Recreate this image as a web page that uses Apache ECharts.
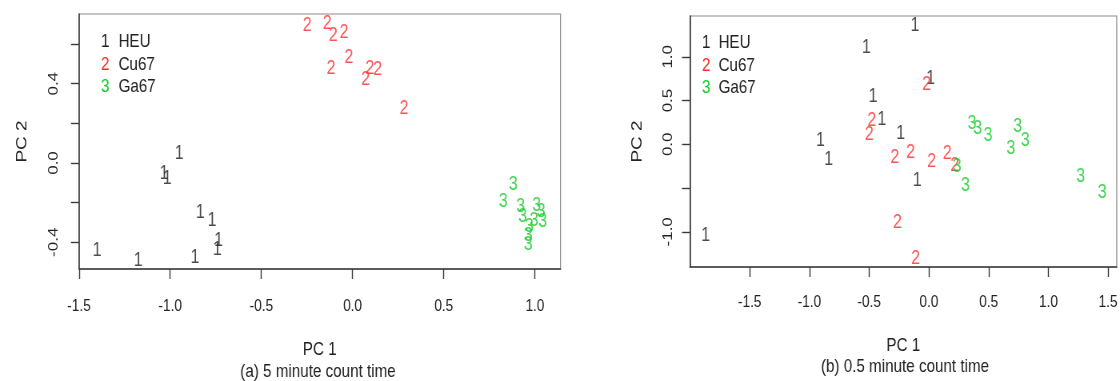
<!DOCTYPE html>
<html>
<head>
<meta charset="utf-8">
<script src="https://cdn.jsdelivr.net/npm/echarts@6/dist/echarts.min.js"></script>
<style>
  html, body { margin: 0; padding: 0; background: #fff; overflow: hidden; }
  /* the original figure is squeezed sideways, so draw wider and scale x by 0.8 */
  #chart { width: 1400px; height: 381px; transform: scaleX(0.8); transform-origin: 0 0; }
</style>
</head>
<body>
<div id="chart"></div>
<script>
// groups, plotted as their code digit
var groupNames = ['HEU', 'Cu67', 'Ga67'];
var groupCodes = ['1', '2', '3'];
var groupColors = ['#1e1e1e', '#ff2b2b', '#12cc26'];

// (a) 5 minute count time  [PC1, PC2]
var a_heu = [[-0.950, 0.049], [-1.034, -0.051], [-1.016, -0.077], [-0.835, -0.249], [-0.771, -0.288],
             [-0.734, -0.389], [-0.742, -0.434], [-1.401, -0.444], [-1.175, -0.493], [-0.864, -0.476]];
var a_cu67 = [[-0.248, 0.692], [-0.139, 0.702], [-0.106, 0.646], [-0.047, 0.660], [-0.020, 0.534],
              [-0.118, 0.475], [0.095, 0.478], [0.138, 0.470], [0.072, 0.423], [0.282, 0.276]];
var a_ga67 = [[0.881, -0.108], [0.826, -0.195], [0.922, -0.221], [1.009, -0.212], [0.933, -0.271],
              [1.033, -0.246], [1.042, -0.296], [0.995, -0.288], [0.969, -0.322], [0.963, -0.364], [0.963, -0.411]];

// (b) 0.5 minute count time
var b_heu = [[-0.908, 0.038], [-0.839, -0.175], [-1.869, -1.040], [-0.117, 1.352], [-0.523, 1.105],
             [0.014, 0.751], [-0.467, 0.541], [-0.394, 0.282], [-0.236, 0.122], [-0.098, -0.411]];
var b_cu67 = [[-0.019, 0.686], [-0.478, 0.274], [-0.500, 0.114], [-0.286, -0.145], [-0.153, -0.099],
              [0.023, -0.202], [0.153, -0.106], [0.217, -0.240], [-0.264, -0.895], [-0.111, -1.306]];
var b_ga67 = [[0.236, -0.259], [0.306, -0.469], [0.361, 0.237], [0.408, 0.179], [0.494, 0.103],
              [0.742, 0.206], [0.806, 0.046], [0.686, -0.049], [1.269, -0.366], [1.450, -0.545]];

// ticks and tick labels
var a_xTicks = [-1.5, -1.0, -0.5, 0.0, 0.5, 1.0];
var a_yTicks = [-0.4, -0.2, 0.0, 0.2, 0.4, 0.6];
var a_yLabels = [-0.4, 0.0, 0.4];
var b_xTicks = [-1.5, -1.0, -0.5, 0.0, 0.5, 1.0, 1.5];
var b_yTicks = [-1.0, -0.5, 0.0, 0.5, 1.0];
var b_yLabels = [-1.0, 0.0, 0.5, 1.0];

var FONT = "'Liberation Sans', Arial, sans-serif";
var AXIS_COLOR = '#3a3a3a';
var SX = 0.8; // horizontal squeeze, see css

function fmt(v) { return v.toFixed(1); }

function xAxisOpt(idx, min, max, ticks, nameGap, margin) {
  return {
    type: 'value', gridIndex: idx, min: min, max: max,
    name: 'PC 1', nameLocation: 'middle', nameGap: nameGap,
    nameTextStyle: { fontSize: 19, fontFamily: FONT, color: '#222' },
    axisLine: { show: true, onZero: false, lineStyle: { color: AXIS_COLOR, width: 1.6 } },
    axisTick: { show: true, length: 10, customValues: ticks, lineStyle: { color: AXIS_COLOR, width: 1.4 } },
    axisLabel: { customValues: ticks, formatter: fmt, fontSize: 17, fontFamily: FONT, color: '#222', margin: margin },
    splitLine: { show: false }
  };
}

function yAxisOpt(idx, min, max, ticks, labels, nameGap, margin) {
  return {
    type: 'value', gridIndex: idx, min: min, max: max,
    name: 'PC 2', nameLocation: 'middle', nameGap: nameGap / SX, nameRotate: 90,
    nameTextStyle: { fontSize: 19, fontFamily: FONT, color: '#222' },
    axisLine: { show: true, onZero: false, lineStyle: { color: AXIS_COLOR, width: 1.6 } },
    axisTick: { show: true, length: 8 / SX, customValues: ticks, lineStyle: { color: AXIS_COLOR, width: 1.4 } },
    axisLabel: { customValues: labels, formatter: fmt, rotate: 90, fontSize: 17, fontFamily: FONT, color: '#222', margin: margin / SX },
    splitLine: { show: false }
  };
}

function digits(i, data, idx) {
  return {
    name: groupNames[i], type: 'scatter', xAxisIndex: idx, yAxisIndex: idx,
    data: data, symbolSize: 1, silent: true,
    itemStyle: { color: 'rgba(0,0,0,0)' },
    label: { show: true, position: 'inside', formatter: groupCodes[i], color: groupColors[i],
             fontSize: 20, fontFamily: FONT, verticalAlign: 'middle' },
    emphasis: { disabled: true }
  };
}

function legendOpt(left, top, codeWidth) {
  var rich = {};
  groupNames.forEach(function (n, i) {
    rich['c' + i] = { color: groupColors[i], fontSize: 19, fontFamily: FONT, width: codeWidth / SX };
  });
  return {
    orient: 'vertical', left: left / SX, top: top, padding: 0, itemGap: 2.5,
    icon: 'none', itemWidth: 0, itemHeight: 14, selectedMode: false,
    data: groupNames,
    formatter: function (name) {
      var i = groupNames.indexOf(name);
      return '{c' + i + '|' + groupCodes[i] + '}' + name;
    },
    textStyle: { fontSize: 19, fontFamily: FONT, color: '#222', lineHeight: 20, rich: rich }
  };
}

var W = 1120 / SX;
var option = {
  backgroundColor: '#fff',
  animation: false,
  title: [
    { text: '(a) 5 minute count time', left: 318 / SX, top: 362, textAlign: 'center', padding: 0,
      textStyle: { fontSize: 19, fontWeight: 'normal', fontFamily: FONT, color: '#222' } },
    { text: '(b) 0.5 minute count time', left: 905 / SX, top: 357, textAlign: 'center', padding: 0,
      textStyle: { fontSize: 19, fontWeight: 'normal', fontFamily: FONT, color: '#222' } }
  ],
  legend: [legendOpt(97, 32, 17.5), legendOpt(698, 33, 16.5)],
  grid: [
    { left: 79 / SX, right: W - 560.5 / SX, top: 14, bottom: 112, show: true, borderColor: '#8a8a8a', borderWidth: 1.2 },
    { left: 690 / SX, right: W - 1118.7 / SX, top: 16, bottom: 114, show: true, borderColor: '#8a8a8a', borderWidth: 1.2 }
  ],
  xAxis: [
    xAxisOpt(0, -1.5, 1.14, a_xTicks, 71, 29),
    xAxisOpt(1, -2.0, 1.572, b_xTicks, 69, 27)
  ],
  yAxis: [
    yAxisOpt(0, -0.535, 0.752, a_yTicks, a_yLabels, 49, 18),
    yAxisOpt(1, -1.402, 1.466, b_yTicks, b_yLabels, 45, 15)
  ],
  series: [
    digits(0, a_heu, 0), digits(1, a_cu67, 0), digits(2, a_ga67, 0),
    digits(0, b_heu, 1), digits(1, b_cu67, 1), digits(2, b_ga67, 1)
  ]
};

var chart = echarts.init(document.getElementById('chart'));
chart.setOption(option);
</script>
</body>
</html>
